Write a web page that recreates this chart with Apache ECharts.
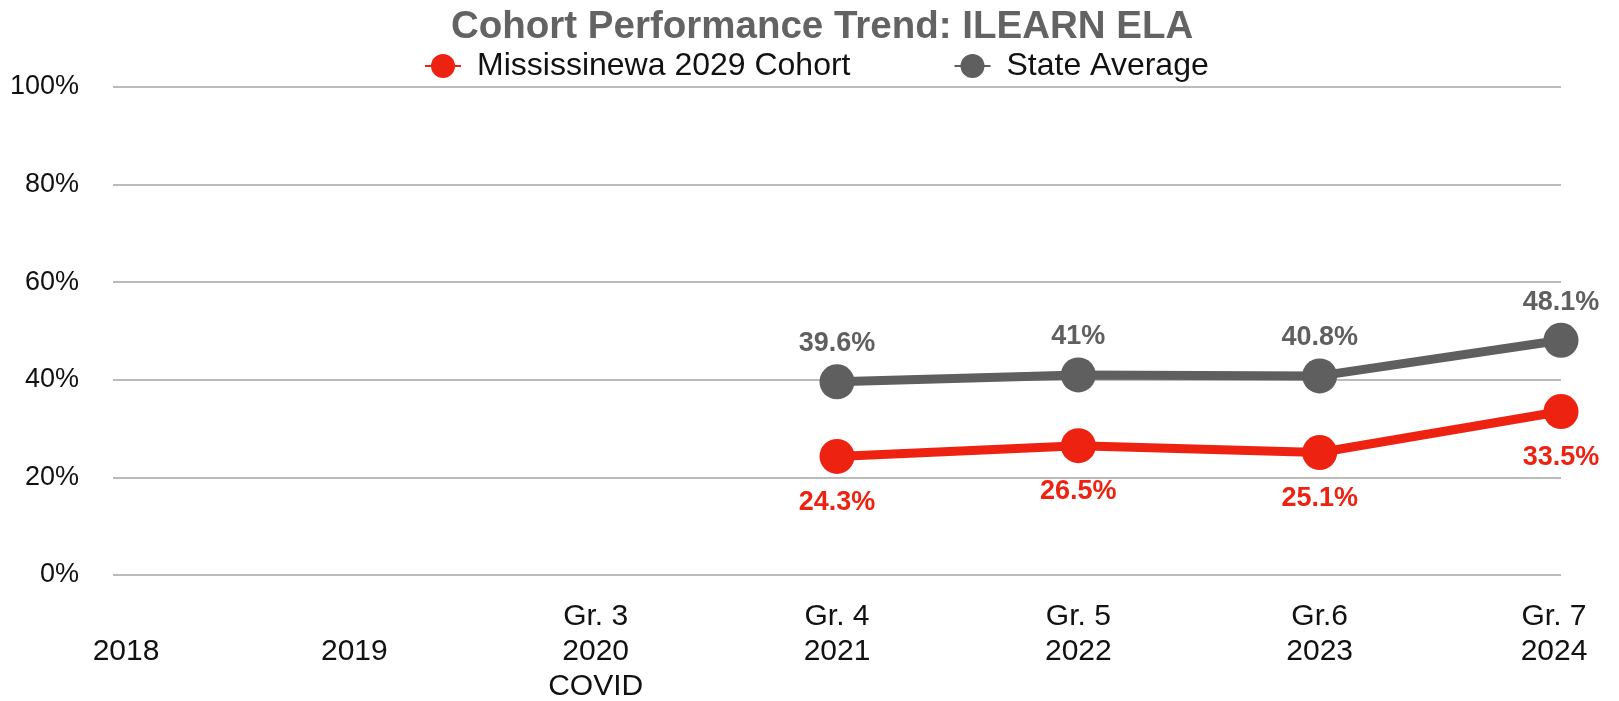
<!DOCTYPE html>
<html>
<head>
<meta charset="utf-8">
<script src="https://cdn.jsdelivr.net/npm/echarts@6/dist/echarts.min.js"></script>
<style>
html,body{margin:0;padding:0;background:#fff;}
#chart{width:1619px;height:701px;}
</style>
</head>
<body>
<div id="chart"></div>
<script>
const years = ['2018', '2019', '2020', '2021', '2022', '2023', '2024'];
const grades = ['', '', 'Gr. 3', 'Gr. 4', 'Gr. 5', 'Gr.6', 'Gr. 7'];
const notes = ['', '', 'COVID', '', '', '', ''];
const cohortValues = [null, null, null, 24.3, 26.5, 25.1, 33.5];
const stateValues = [null, null, null, 39.6, 41, 40.8, 48.1];
const yTicks = [0, 20, 40, 60, 80, 100];

const FONT = '"Liberation Sans", Arial, Helvetica, sans-serif';
const RED = '#EE2211';
const GREY = '#5F5F5F';

const chart = echarts.init(document.getElementById('chart'));
const lastIdx = years.length - 1;

chart.setOption({
  backgroundColor: '#ffffff',
  animation: false,
  title: {
    text: 'Cohort Performance Trend: ILEARN ELA',
    left: 451,
    top: 8,
    padding: 0,
    textStyle: { fontFamily: FONT, fontSize: 38.5, fontWeight: 'bold', color: '#636363' }
  },
  legend: {
    top: 45,
    left: 419,
    itemGap: 103,
    itemWidth: 36,
    itemHeight: 30,
    textStyle: { fontFamily: FONT, fontSize: 32, color: '#111', padding: [0, 0, 0, 11] },
    data: ['Mississinewa 2029 Cohort', 'State Average']
  },
  grid: { left: 113, right: 58, top: 87, bottom: 126, containLabel: false, outerBoundsMode: 'none' },
  xAxis: {
    type: 'category',
    boundaryGap: false,
    data: years,
    axisLine: { show: false },
    axisTick: { show: false },
    axisLabel: {
      interval: 0,
      margin: 24,
      fontFamily: FONT,
      fontSize: 30,
      lineHeight: 35,
      color: '#111',
      formatter: function (val, idx) {
        const lines = [grades[idx], years[idx]];
        if (notes[idx]) lines.push(notes[idx]);
        if (idx === 0) return '{first|' + lines[0] + '}\n{first|' + lines[1] + '}';
        if (idx === lastIdx) return '{last|' + lines[0] + '}\n{last|' + lines[1] + '}';
        return lines.join('\n');
      },
      rich: {
        first: { fontFamily: FONT, fontSize: 30, lineHeight: 35, color: '#111', padding: [0, 0, 0, 26] },
        last: { fontFamily: FONT, fontSize: 30, lineHeight: 35, color: '#111', padding: [0, 14, 0, 0] }
      }
    }
  },
  yAxis: {
    type: 'value',
    min: yTicks[0],
    max: yTicks[yTicks.length - 1],
    interval: yTicks[1] - yTicks[0],
    axisLine: { show: false },
    axisTick: { show: false },
    axisLabel: {
      formatter: '{value}%',
      margin: 34,
      fontFamily: FONT,
      fontSize: 27,
      color: '#111'
    },
    splitLine: { lineStyle: { color: '#BBBBBB', width: 2 } }
  },
  series: [
    {
      name: 'Mississinewa 2029 Cohort',
      type: 'line',
      data: cohortValues,
      color: RED,
      symbol: 'circle',
      symbolSize: 35,
      lineStyle: { width: 9, color: RED },
      itemStyle: { color: RED },
      label: {
        show: true,
        position: 'bottom',
        distance: 15,
        formatter: '{c}%',
        fontFamily: FONT,
        fontSize: 27,
        fontWeight: 'bold',
        color: RED
      },
      z: 3
    },
    {
      name: 'State Average',
      type: 'line',
      data: stateValues,
      color: GREY,
      symbol: 'circle',
      symbolSize: 35,
      lineStyle: { width: 9, color: GREY },
      itemStyle: { color: GREY },
      label: {
        show: true,
        position: 'top',
        distance: 7,
        formatter: '{c}%',
        fontFamily: FONT,
        fontSize: 27,
        fontWeight: 'bold',
        color: GREY
      },
      z: 3
    }
  ]
});
</script>
</body>
</html>
